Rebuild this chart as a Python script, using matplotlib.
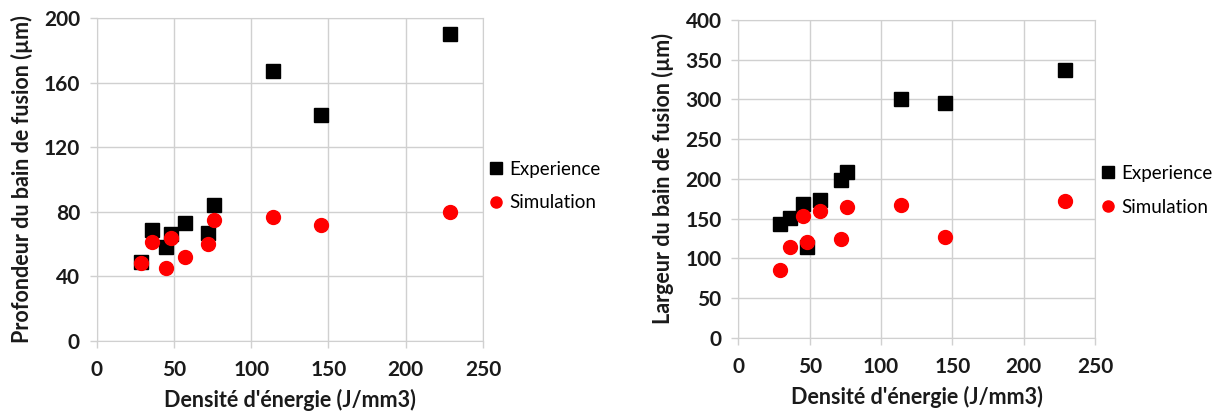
import matplotlib
matplotlib.use("Agg")
import matplotlib.pyplot as plt

plt.rcParams['font.family'] = ['Lato', 'DejaVu Sans']

# ====== DATA ======
densite = [29, 36, 45, 48, 57, 72, 76, 114, 145, 229]          # J/mm3
prof_exp = [49, 69, 58, 66, 73, 67, 84, 167, 140, 190]          # µm
prof_sim = [48, 61, 45, 64, 52, 60, 75, 77, 72, 80]
larg_exp = [143, 151, 168, 114, 173, 199, 209, 300, 296, 337]
larg_sim = [86, 114, 153, 121, 160, 125, 165, 167, 127, 172]

xticks = [0, 50, 100, 150, 200, 250]
prof_ticks = [0, 40, 80, 120, 160, 200]
larg_ticks = [0, 50, 100, 150, 200, 250, 300, 350, 400]
# ===================

GRID = '#d0d0d0'
TXT = '#1a1a1a'


def style_axis(ax, yticks, ylabel):
    ax.set_xlim(0, 250)
    ax.set_ylim(yticks[0], yticks[-1])
    ax.set_xticks(xticks)
    ax.set_yticks(yticks)
    ax.grid(True, color=GRID, lw=1)
    ax.set_axisbelow(True)
    for s in ax.spines.values():
        s.set_color(GRID)
    ax.tick_params(colors=GRID, labelcolor=TXT, length=5, width=1, labelsize=15)
    ax.tick_params(axis='x', pad=9)
    ax.tick_params(axis='y', pad=7)
    for lab in ax.get_xticklabels() + ax.get_yticklabels():
        lab.set_fontweight('bold')
    ax.set_xlabel("Densité d'énergie (J/mm3)", fontsize=15.5, fontweight='bold',
                  color=TXT, labelpad=6)
    ax.set_ylabel(ylabel, fontsize=15.5, fontweight='bold', color=TXT, labelpad=8)


fig = plt.figure(figsize=(12.22, 4.12), dpi=100)
ax1 = fig.add_axes([0.0791, 0.1723, 0.3161, 0.784])
ax2 = fig.add_axes([0.6042, 0.1796, 0.2919, 0.772])

for ax, ye, ys, yt, lab, yleg in [
        (ax1, prof_exp, prof_sim, prof_ticks, 'Profondeur du bain de fusion (µm)', 0.48),
        (ax2, larg_exp, larg_sim, larg_ticks, 'Largeur du bain de fusion (µm)', 0.465)]:
    ax.plot(densite, ye, 's', color='black', ms=10, label='Experience', clip_on=False)
    ax.plot(densite, ys, 'o', color='red', ms=10, label='Simulation', clip_on=False)
    style_axis(ax, yt, lab)
    ax.legend(loc='center left', bbox_to_anchor=(1.0, yleg), frameon=False,
              fontsize=13.5, handlelength=0.6, handletextpad=0.4,
              labelspacing=0.9, markerscale=0.8, borderaxespad=0.0)

fig.savefig('out.png', dpi=100)
